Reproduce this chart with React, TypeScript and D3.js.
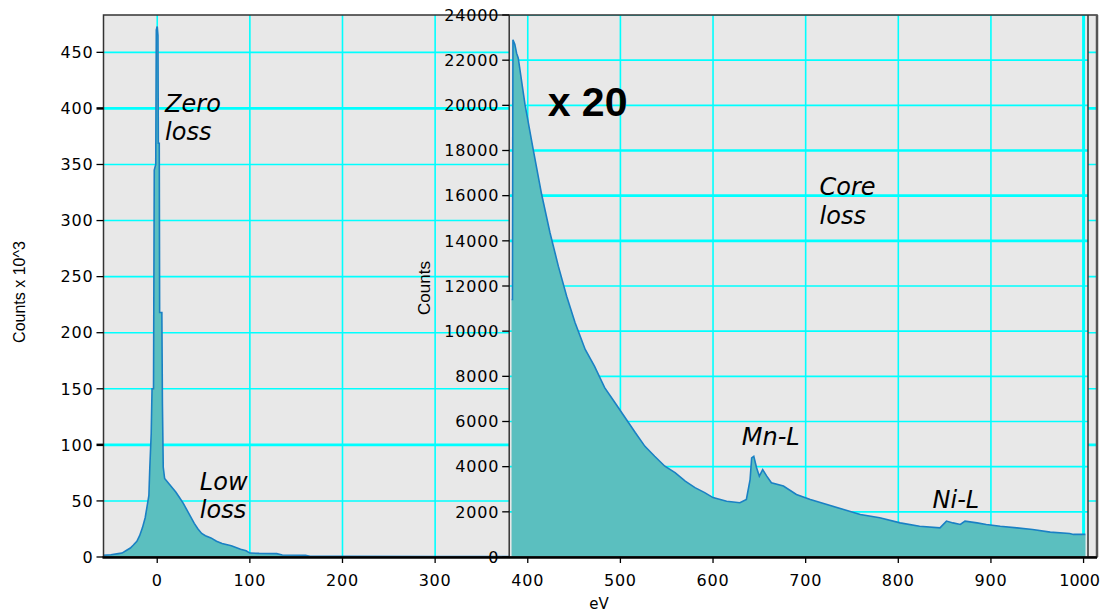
import React from "react";
import * as d3 from "d3";

// ---- Data ----
// Low-loss spectrum: energy loss (eV) and counts x 10^3
const lowLossEV = [
  -58, -50, -42, -38, -33, -29, -26, -22, -19, -16, -13, -11, -9, -8, -6.5, -5.6, -4, -3.2, -1.6,
  -1, 0, 0.8, 1.2, 2.2, 2.6, 5, 5.6, 6.5, 8, 12, 16, 20, 24, 28, 32, 36, 40, 44, 48, 52, 58, 64,
  70, 80, 90, 96, 100, 110, 129, 135, 160, 165, 200, 300, 380,
];
const lowLossCounts = [
  1.5, 2, 3, 3.5, 6, 8, 10.5, 14, 19, 26, 35, 45, 55, 80, 110, 150, 150, 345, 350,
  470, 473, 465, 369, 369, 218, 218, 137, 80, 70, 66, 62, 58, 53, 48, 42, 36, 30, 25, 21, 19, 17, 14,
  12, 10, 7, 5.5, 3.5, 3.2, 3, 1.8, 1.5, 0.7, 0.6, 0.5, 0.5,
];

// Core-loss spectrum (x 20 inset): energy loss (eV) and counts
const coreLossEV = [
  382.5, 383.5, 384, 386, 388, 389.7, 397, 405.9, 415, 424, 433, 442, 451, 462, 472, 483, 494, 505,
  516, 526.5, 537, 548, 559, 570, 580.5, 591, 600, 614.7, 629, 636, 640, 641.7, 644, 647, 650,
  653.6, 658, 663, 676, 690, 705, 723, 741, 759, 780, 802, 823, 845, 852, 859, 867, 872, 885, 895,
  910, 928, 945, 964, 985, 989, 1002,
];
const coreLossCounts = [
  11400, 11400, 22900, 22700, 22300, 22100, 20040, 18040, 16050, 14360, 12880, 11550, 10380, 9190,
  8450, 7500, 6840, 6180, 5510, 4900, 4460, 4020, 3740, 3360, 3070, 2850, 2630, 2470, 2400, 2550,
  3430, 4390, 4460, 3950, 3580, 3870, 3580, 3290, 3140, 2770, 2550, 2320, 2100, 1880, 1740, 1510,
  1360, 1290, 1590, 1510, 1440, 1590, 1510, 1440, 1360, 1290, 1220, 1100, 1040, 1000, 1000,
];

const xTicks = [0, 100, 200, 300, 400, 500, 600, 700, 800, 900, 1000];
const lowYTicks = [0, 50, 100, 150, 200, 250, 300, 350, 400, 450];
const coreYTicks = [0, 2000, 4000, 6000, 8000, 10000, 12000, 14000, 16000, 18000, 20000, 22000, 24000];

const xLabel = "eV";
const lowYLabel = "Counts x 10^3";
const coreYLabel = "Counts";

// annotations: [text, eV, value]
const lowNotes: [string, number, number][] = [
  ["Zero", 8.5, 397],
  ["loss", 8.5, 372],
  ["Low", 46, 60],
  ["loss", 46, 35],
];
const coreNotes: [string, number, number][] = [
  ["Core", 715, 16030],
  ["loss", 715, 14745],
  ["Mn-L", 631, 4960],
  ["Ni-L", 837, 2180],
];
const scaleNote: [string, number, number] = ["x 20", 421.5, 19530];

export default function App() {
  const W = 1101, H = 612;
  const L = 103.5, R = 1097, T = 15, B = 557;
  const IL = 509.2, IR = 1088;

  const x = d3.scaleLinear().domain([-58, 1014.5]).range([L, R]);
  const yLow = d3.scaleLinear().domain([0, 483.3]).range([B, T]);
  const yCore = d3.scaleLinear().domain([0, 24000]).range([B, T]);

  const lowData = lowLossEV.map((e, i) => [e, lowLossCounts[i]] as [number, number]);
  const coreData = coreLossEV.map((e, i) => [e, coreLossCounts[i]] as [number, number]);

  const lowArea = d3.area<[number, number]>().x(d => x(d[0])).y0(yLow(0)).y1(d => yLow(d[1]))(lowData) || "";
  const lowLine = d3.line<[number, number]>().x(d => x(d[0])).y(d => yLow(d[1]))(lowData) || "";
  const coreArea = d3.area<[number, number]>().x(d => x(d[0])).y0(yCore(0)).y1(d => yCore(d[1]))(coreData) || "";
  const coreLine = d3.line<[number, number]>().x(d => x(d[0])).y(d => yCore(d[1]))(coreData) || "";

  const grid = "#00ffff";
  const bg = "#e8e8e8";
  const fill = "#5bbfbf";
  const stroke = "#1a80c4";
  const frame = "#333";
  const tickFont = "'DejaVu Sans', sans-serif";
  const boldLowGrid = [100, 400];
  const boldCoreGrid = [14000, 16000, 18000];
  const boldXGrid = [1000];

  const outerX = xTicks.filter(t => x(t) > L && x(t) < IL);
  const innerX = xTicks.filter(t => x(t) > IL && x(t) < IR);

  return (
    <svg width={W} height={H} style={{ position: "absolute", left: 0, top: 0, background: "#fff" }}>
      <defs>
        <clipPath id="outerClip"><rect x={L} y={T} width={R - L} height={B - T} /></clipPath>
        <clipPath id="innerClip"><rect x={IL} y={T} width={IR - IL} height={B - T} /></clipPath>
      </defs>
      <rect x={0} y={0} width={W} height={H} fill="#fff" />
      {/* outer (low loss) plot */}
      <rect x={L} y={T} width={R - L} height={B - T} fill={bg} />
      <g clipPath="url(#outerClip)">
        {lowYTicks.filter(t => t > 0).map(t => (
          <line key={"lg" + t} x1={L} x2={R} y1={yLow(t)} y2={yLow(t)} stroke={grid}
            strokeWidth={boldLowGrid.includes(t) ? 2.6 : 1.6} />
        ))}
        {outerX.map(t => (
          <line key={"lx" + t} x1={x(t)} x2={x(t)} y1={T} y2={B} stroke={grid} strokeWidth={1.6} />
        ))}
        <path d={lowArea} fill={fill} />
        <path d={lowLine} fill="none" stroke={stroke} strokeWidth={1.6} />
      </g>
      {/* inset (core loss) plot */}
      <rect x={IL} y={T} width={IR - IL} height={B - T} fill={bg} />
      <g clipPath="url(#innerClip)">
        {coreYTicks.filter(t => t > 0).map(t => (
          <line key={"cg" + t} x1={IL} x2={IR} y1={yCore(t)} y2={yCore(t)} stroke={grid}
            strokeWidth={boldCoreGrid.includes(t) ? 2.6 : 1.6} />
        ))}
        {innerX.map(t => (
          <line key={"cx" + t} x1={x(t)} x2={x(t)} y1={T} y2={B} stroke={grid}
            strokeWidth={boldXGrid.includes(t) ? 3 : 1.6} />
        ))}
        <path d={coreArea} fill={fill} />
        <path d={coreLine} fill="none" stroke={stroke} strokeWidth={1.6} />
      </g>
      {/* frames */}
      <rect x={L} y={T} width={R - L} height={B - T} fill="none" stroke={frame} strokeWidth={1.5} />
      <line x1={R} x2={R} y1={T} y2={B} stroke="#555" strokeWidth={2.5} />
      <line x1={IL} x2={IL} y1={T} y2={B} stroke={frame} strokeWidth={1.5} />
      <line x1={IR} x2={IR} y1={T} y2={B} stroke={frame} strokeWidth={1.5} />
      <line x1={L - 1} x2={R} y1={B + 0.5} y2={B + 0.5} stroke="#000" strokeWidth={2.5} />

      {/* left y axis */}
      {lowYTicks.map(t => (
        <g key={"ly" + t}>
          <line x1={L - 7} x2={L} y1={yLow(t)} y2={yLow(t)} stroke="#000"
            strokeWidth={boldLowGrid.includes(t) ? 2.5 : 1.3} />
          <text x={L - 10} y={yLow(t)} dy="0.36em" textAnchor="end" fontFamily={tickFont}
            fontSize={16} letterSpacing={0.8} fill="#000">{t}</text>
        </g>
      ))}
      <text transform={`translate(25,${(T + B) / 2 + 6}) rotate(-90)`} textAnchor="middle"
        fontFamily="'Liberation Sans', sans-serif" fontSize={16} fill="#000">{lowYLabel}</text>

      {/* inset y axis */}
      {coreYTicks.map(t => (
        <g key={"cy" + t}>
          <line x1={IL - 7} x2={IL} y1={yCore(t)} y2={yCore(t)} stroke="#000" strokeWidth={1.3} />
          <text x={IL - 10} y={yCore(t)} dy="0.36em" textAnchor="end" fontFamily={tickFont}
            fontSize={16} letterSpacing={0.8} fill="#000">{t}</text>
        </g>
      ))}
      <text transform={`translate(430,${288}) rotate(-90)`} textAnchor="middle"
        fontFamily="'Liberation Sans', sans-serif" fontSize={17} fill="#000">{coreYLabel}</text>

      {/* x axis */}
      {xTicks.map((t, i) => (
        <g key={"xt" + t}>
          <line x1={x(t)} x2={x(t)} y1={B} y2={B + 6} stroke="#000" strokeWidth={1.3} />
          <text x={x(t)} dx={i === xTicks.length - 1 ? -4 : 0} y={B + 29} textAnchor="middle"
            fontFamily={tickFont} fontSize={16} letterSpacing={i === xTicks.length - 1 ? 0 : 0.8}
            fill="#000">{t}</text>
        </g>
      ))}
      <text x={599} y={609} textAnchor="middle" fontFamily={tickFont} fontSize={15} fill="#000">{xLabel}</text>

      {/* annotations */}
      {lowNotes.map(([s, e, v], i) => (
        <text key={"ln" + i} x={x(e)} y={yLow(v)} fontFamily="'DejaVu Sans', sans-serif"
          fontStyle="italic" fontSize={24} fill="#000">{s}</text>
      ))}
      {coreNotes.map(([s, e, v], i) => (
        <text key={"cn" + i} x={x(e)} y={yCore(v)} fontFamily="'DejaVu Sans', sans-serif"
          fontStyle="italic" fontSize={24} fill="#000">{s}</text>
      ))}
      <text x={x(scaleNote[1])} y={yCore(scaleNote[2])} fontFamily="'Liberation Sans', sans-serif"
        fontWeight="bold" fontSize={41} fill="#000">{scaleNote[0]}</text>
    </svg>
  );
}
